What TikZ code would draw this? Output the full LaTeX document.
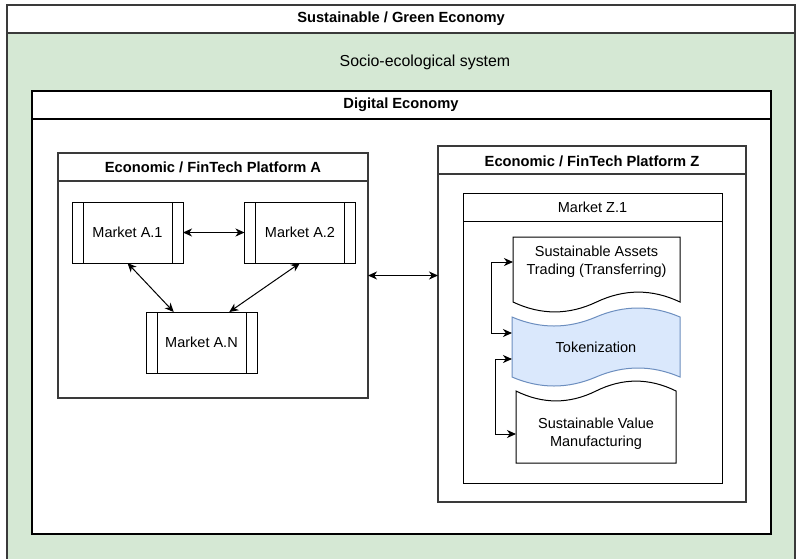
\documentclass[tikz,border=0pt]{standalone}
\usepackage{fontspec}
\setmainfont{Liberation Sans}
\usetikzlibrary{arrows.meta,calc}
\definecolor{greenfill}{HTML}{D5E8D4}
\definecolor{bluefill}{HTML}{DAE8FC}
\definecolor{bluestroke}{HTML}{6C8EBF}
\definecolor{framegray}{HTML}{3A3A3A}
\begin{document}
\begin{tikzpicture}[x=1pt,y=-1pt,
  container/.style={draw=framegray, line width=1.2pt, fill=white, inner sep=0pt, outer sep=0pt, anchor=north west},
  innerbox/.style={draw=black, line width=1pt, fill=white, inner sep=0pt, outer sep=0pt, anchor=north west},
  titlebold/.style={font=\bfseries\fontsize{14.7}{17}\selectfont},
  lbl/.style={font=\fontsize{14.5}{18}\selectfont, align=center, inner sep=0pt, outer sep=0pt},
  process/.style={draw=black, line width=1pt, fill=white, minimum width=111pt, minimum height=61pt,
    inner sep=0pt, outer sep=0pt, font=\fontsize{14.5}{18}\selectfont,
    path picture={
      \draw[line width=1pt] ([xshift=11pt]path picture bounding box.north west) -- ([xshift=11pt]path picture bounding box.south west);
      \draw[line width=1pt] ([xshift=-11pt]path picture bounding box.north east) -- ([xshift=-11pt]path picture bounding box.south east);
    }},
  shapeline/.style={draw=black, line width=1pt, fill=white},
  arr/.style={{Stealth[length=9pt,width=8pt,inset=2.7pt]}-{Stealth[length=9pt,width=8pt,inset=2.7pt]}, line width=1pt},
]
\useasboundingbox (0,0) rectangle (800,558);
\fill[white] (0,0) rectangle (800,558);

% Outer: Sustainable / Green Economy
\filldraw[fill=greenfill, draw=framegray, line width=1.2pt] (7,5) rectangle (795,575);
\filldraw[fill=white, draw=framegray, line width=1.2pt] (7,5) rectangle (795,33);
\node[titlebold] (tgreen) at (401,19) {Sustainable / Green Economy};
\node[font=\fontsize{15.9}{19}\selectfont] (tsocio) at (425,62) {Socio-ecological system};

% Digital Economy
\node[container, draw=black, minimum width=739pt, minimum height=443pt] (dig) at (32,91) {};
\draw[line width=1.2pt] ([yshift=-28pt]dig.north west) -- ([yshift=-28pt]dig.north east);
\node[titlebold] (tdig) at (401,105) {Digital Economy};

% Platform A
\node[container, minimum width=310pt, minimum height=245pt] (pA) at (58,153) {};
\draw[draw=framegray, line width=1.2pt] ([yshift=-28pt]pA.north west) -- ([yshift=-28pt]pA.north east);
\node[titlebold] (tA) at (213,167) {Economic / FinTech Platform A};

% Platform Z
\node[container, minimum width=308pt, minimum height=356pt] (pZ) at (438,146) {};
\draw[draw=framegray, line width=1.2pt] ([yshift=-28pt]pZ.north west) -- ([yshift=-28pt]pZ.north east);
\node[titlebold] (tZ) at (592,161) {Economic / FinTech Platform Z};

% Market Z.1
\node[innerbox, minimum width=259pt, minimum height=290pt] (mz) at (463,193) {};
\draw[line width=1pt] ([yshift=-28pt]mz.north west) -- ([yshift=-28pt]mz.north east);
\node[lbl] (tmz) at (592.5,207) {Market Z.1};

% Markets of platform A
\node[process] (a1) at (127.5,232.5) {Market A.1};
\node[process] (a2) at (300,232.5) {Market A.2};
\node[process] (an) at (201.5,342.5) {Market A.N};

\draw[arr] (a1.east) -- (a2.west);
\draw[arr] (a1.south) -- ($(an.north west)!0.25!(an.north east)$);
\draw[arr] (a2.south) -- ($(an.north west)!0.75!(an.north east)$);
\draw[arr] (pA.east) -- (pA.east -| pZ.west);

% Document shape: Sustainable Assets Trading
\path[shapeline] (513,237) -- (680,237) -- (680,302)
  .. controls (652.17,288.8) and (624.33,288.8) .. (596.5,302)
  .. controls (568.67,315.2) and (540.83,315.2) .. (513,302) -- cycle;
\node[lbl, minimum width=167pt] (d1) at (596.5,262) {Sustainable Assets\\Trading (Transferring)};

% Tape shape: Tokenization
\path[draw=bluestroke, line width=1pt, fill=bluefill] (512,317)
  .. controls (540,329) and (568,329) .. (596,317)
  .. controls (624,305) and (652,305) .. (680,317)
  -- (680,377)
  .. controls (652,365) and (624,365) .. (596,377)
  .. controls (568,389) and (540,389) .. (512,377) -- cycle;
\node[lbl, minimum width=168pt] (tok) at (596,347) {Tokenization};

% Rotated document: Sustainable Value Manufacturing
\path[shapeline] (516,391)
  .. controls (542.67,404.2) and (569.33,404.2) .. (596,391)
  .. controls (622.67,377.8) and (649.33,377.8) .. (676,391)
  -- (676,463) -- (516,463) -- cycle;
\node[lbl, minimum width=160pt] (mf) at (596,434) {Sustainable Value\\Manufacturing};

% Connectors inside Market Z.1
\draw[arr] (d1.west) -- ++(-22,0) |- ([yshift=14pt]tok.west);
\draw[arr] ([yshift=-12pt]tok.west) -- ++(-17,0) |- (mf.west);
\end{tikzpicture}
\end{document}
